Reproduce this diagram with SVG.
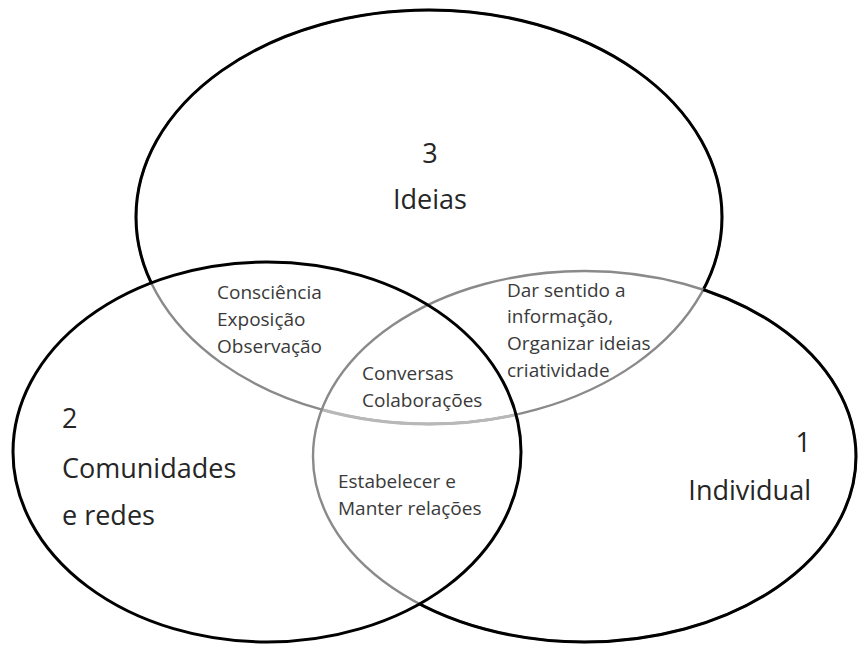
<svg xmlns="http://www.w3.org/2000/svg" width="858" height="645" viewBox="0 0 858 645">
<style>
.big{font-family:"Open Sans","Noto Sans","DejaVu Sans",sans-serif;font-size:27px;fill:#262626}
.small{font-family:"Open Sans","Noto Sans","DejaVu Sans",sans-serif;font-size:19px;fill:#3a3a3a}
.blk{fill:none;stroke:#000;stroke-width:3}
.gry{fill:none;stroke:#8a8a8a;stroke-width:2.4}
.lgt{fill:none;stroke:#b8b8b8;stroke-width:3}
</style>
<defs>
<ellipse id="eT" cx="429" cy="217" rx="293" ry="207"/>
<ellipse id="eL" cx="267" cy="452" rx="254" ry="190"/>
<ellipse id="eR" cx="584.5" cy="456.5" rx="271.5" ry="185.5"/>
<clipPath id="inL"><use href="#eL"/></clipPath>
<clipPath id="inR"><use href="#eR"/></clipPath>
<clipPath id="outL"><path clip-rule="evenodd" d="M-10,-10H870V660H-10Z M13,452 a254,190 0 1,0 508,0 a254,190 0 1,0 -508,0Z"/></clipPath>
<clipPath id="outR"><path clip-rule="evenodd" d="M-10,-10H870V660H-10Z M313,456.5 a271.5,185.5 0 1,0 543,0 a271.5,185.5 0 1,0 -543,0Z"/></clipPath>
<clipPath id="outT"><path clip-rule="evenodd" d="M-10,-10H870V660H-10Z M136,217 a293,207 0 1,0 586,0 a293,207 0 1,0 -586,0Z"/></clipPath>
</defs>
<rect width="858" height="645" fill="#fff"/>
<g id="connectors">
</g>
<g id="node3">
<use href="#eT" class="gry"/>
<g clip-path="url(#inL)"><use href="#eT" class="lgt" clip-path="url(#inR)"/></g>
<g clip-path="url(#outL)"><use href="#eT" class="blk" clip-path="url(#outR)"/></g>
<text class="big" x="430" y="163" text-anchor="middle">3</text>
<text class="big" x="430" y="209" text-anchor="middle">Ideias</text>
</g>
<g id="node1">
<use href="#eR" class="gry"/>
<g clip-path="url(#outT)"><use href="#eR" class="blk" clip-path="url(#outL)"/></g>
<text class="big" x="811" y="452" text-anchor="end">1</text>
<text class="big" x="811" y="500" text-anchor="end">Individual</text>
</g>
<g id="node2">
<use href="#eL" class="blk"/>
<text class="big" x="62" y="428">2</text>
<text class="big" x="62" y="478">Comunidades</text>
<text class="big" x="62" y="525">e redes</text>
</g>
<g id="overlap23">
<text class="small" x="217" y="299">Consciência</text>
<text class="small" x="217" y="326">Exposição</text>
<text class="small" x="217" y="353">Observação</text>
</g>
<g id="overlap13">
<text class="small" x="507" y="297">Dar sentido a</text>
<text class="small" x="507" y="323">informação,</text>
<text class="small" x="507" y="350">Organizar ideias</text>
<text class="small" x="507" y="377">criatividade</text>
</g>
<g id="overlap123">
<text class="small" x="362" y="380">Conversas</text>
<text class="small" x="362" y="407">Colaborações</text>
</g>
<g id="overlap12">
<text class="small" x="338" y="488">Estabelecer e</text>
<text class="small" x="338" y="515">Manter relações</text>
</g>
</svg>
